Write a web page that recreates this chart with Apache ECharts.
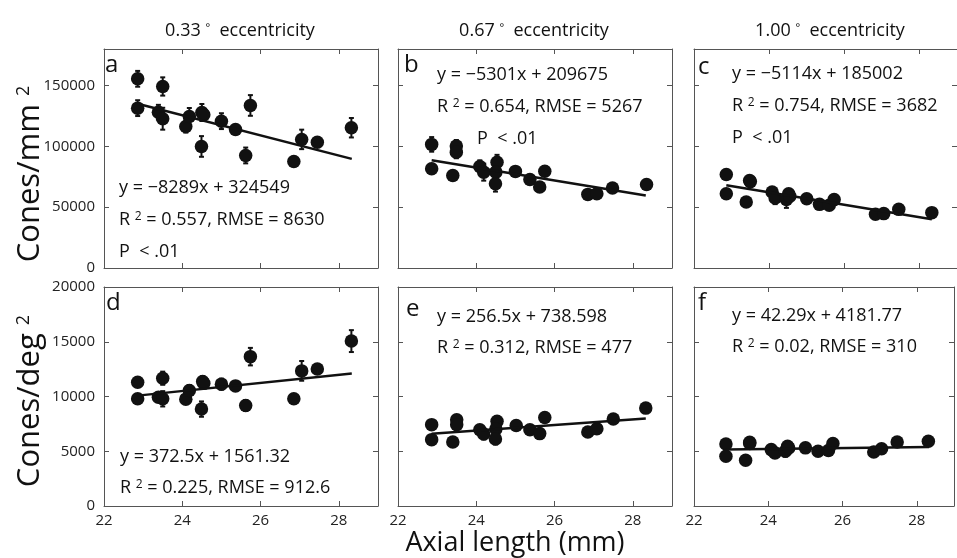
<!DOCTYPE html>
<html>
<head>
<meta charset="utf-8">
<script src="https://cdn.jsdelivr.net/npm/echarts@6/dist/echarts.min.js"></script>
<style>
  html, body { margin: 0; padding: 0; background: #fff; }
  #main { width: 957px; height: 558px; }
</style>
</head>
<body>
<div id="main"></div>
<script>
// axial length (mm) and cone density per panel
var lenA = [22.86, 22.86, 23.39, 23.50, 23.50, 24.09, 24.18, 24.50, 24.55, 24.49, 25.00, 25.36, 25.62, 25.74, 26.85, 27.05, 27.45, 28.32];
var mmA  = [155500, 131400, 128100, 149200, 122700, 116300, 124500, 127800, 126000, 99900, 120700, 113900, 92500, 133600, 87600, 105700, 103400, 115300];
var errA = [6500, 6500, 6000, 7500, 9000, 5000, 7000, 7000, 0, 8500, 6500, 2000, 6500, 8500, 0, 8000, 2000, 8000];

var lenB = [22.86, 22.86, 23.40, 23.49, 23.49, 24.09, 24.19, 24.53, 24.50, 24.49, 25.00, 25.37, 25.62, 25.75, 26.85, 27.08, 27.48, 28.35];
var mmB  = [101600, 81600, 76100, 100200, 95200, 83500, 78800, 87000, 78800, 69300, 79400, 72800, 66500, 79600, 60500, 61100, 65700, 68700];
var errB = [6000, 4000, 0, 5000, 5000, 5000, 7000, 6000, 3000, 6500, 2000, 2000, 3000, 4000, 0, 0, 0, 0];

var lenC = [22.86, 22.86, 23.39, 23.48, 23.50, 24.08, 24.16, 24.52, 24.46, 24.55, 25.00, 25.34, 25.60, 25.73, 26.83, 27.05, 27.45, 28.33];
var mmC  = [76900, 61100, 54200, 72000, 71000, 62400, 57500, 61100, 56400, 59000, 57000, 52300, 51500, 56200, 44100, 44700, 48200, 45500];
var errC = [0, 0, 0, 0, 0, 3000, 5000, 3000, 7000, 0, 0, 0, 0, 2000, 0, 0, 0, 0];

var lenD = [22.86, 22.86, 23.39, 23.50, 23.50, 24.09, 24.18, 24.52, 24.55, 24.49, 25.00, 25.36, 25.62, 25.74, 26.85, 27.05, 27.45, 28.32];
var degD = [11310, 9790, 9940, 11670, 9790, 9760, 10550, 11360, 11200, 8850, 11130, 10970, 9180, 13640, 9790, 12340, 12520, 15060];
var errD = [400, 300, 300, 600, 700, 300, 500, 500, 0, 700, 500, 200, 500, 800, 0, 900, 200, 1000];

var lenE = [22.86, 22.86, 23.40, 23.50, 23.50, 24.09, 24.19, 24.53, 24.50, 24.49, 25.02, 25.37, 25.62, 25.75, 26.85, 27.08, 27.50, 28.33];
var degE = [7430, 6060, 5850, 7880, 7430, 6970, 6580, 7730, 7030, 6120, 7360, 6970, 6610, 8090, 6760, 7060, 7950, 8940];
var errE = [0, 0, 0, 400, 300, 300, 500, 400, 0, 500, 0, 0, 200, 300, 0, 0, 0, 0];

var lenF = [22.86, 22.86, 23.39, 23.50, 23.50, 24.08, 24.18, 24.52, 24.46, 24.55, 25.00, 25.34, 25.62, 25.74, 26.84, 27.05, 27.47, 28.31];
var degF = [5670, 4550, 4180, 5820, 5700, 5150, 4850, 5450, 5000, 5300, 5310, 5000, 5060, 5700, 4940, 5220, 5850, 5910];
var errF = [0, 0, 0, 200, 0, 200, 300, 300, 500, 0, 0, 0, 0, 300, 0, 0, 0, 0];

// regression line end points (from the printed equations)
var fitA = [[22.86, 135060], [28.33, 89720]];
var fitB = [[22.86, 88490], [28.33, 59500]];
var fitC = [[22.86, 68100], [28.33, 40120]];
var fitD = [[22.86, 10080], [28.33, 12110]];
var fitE = [[22.86, 6600], [28.33, 8000]];
var fitF = [[22.86, 5150], [28.33, 5380]];

var xTicks = [22, 24, 26, 28];
var mmTicks = [0, 50000, 100000, 150000];
var degTicks = [0, 5000, 10000, 15000, 20000];
var columnTitles = ['0.33', '0.67', '1.00'];

var panels = [
  { x: lenA, y: mmA, e: errA, fit: fitA, row: 0, col: 0, letter: 'a',
    lines: ['y = \u22128289x + 324549', 'R {s|2} = 0.557, RMSE = 8630', 'P  < .01'] },
  { x: lenB, y: mmB, e: errB, fit: fitB, row: 0, col: 1, letter: 'b',
    lines: ['y = \u22125301x + 209675', 'R {s|2} = 0.654, RMSE = 5267', 'P  < .01'] },
  { x: lenC, y: mmC, e: errC, fit: fitC, row: 0, col: 2, letter: 'c',
    lines: ['y = \u22125114x + 185002', 'R {s|2} = 0.754, RMSE = 3682', 'P  < .01'] },
  { x: lenD, y: degD, e: errD, fit: fitD, row: 1, col: 0, letter: 'd',
    lines: ['y = 372.5x + 1561.32', 'R {s|2} = 0.225, RMSE = 912.6'] },
  { x: lenE, y: degE, e: errE, fit: fitE, row: 1, col: 1, letter: 'e',
    lines: ['y = 256.5x + 738.598', 'R {s|2} = 0.312, RMSE = 477'] },
  { x: lenF, y: degF, e: errF, fit: fitF, row: 1, col: 2, letter: 'f',
    lines: ['y = 42.29x + 4181.77', 'R {s|2} = 0.02, RMSE = 310'] }
];

var colLeft = [104, 398, 694];
var rowTop = [49, 287];
var panelW = 274, panelH = 219;
var FONT = '"Open Sans", "Noto Sans", sans-serif';
var ink = '#111';
var frame = '#555';

// where the annotation text sits in each panel
var textPos = [
  { letter: [112, 68], eq: [119, 188], gap: 32, pX: 119 },
  { letter: [411, 68], eq: [437, 75], gap: 32, pX: 477 },
  { letter: [705, 70], eq: [732, 74], gap: 32, pX: 732 },
  { letter: [113, 306], eq: [120, 457], gap: 31 },
  { letter: [413, 312], eq: [437, 317], gap: 31 },
  { letter: [705, 306], eq: [732, 316], gap: 31 }
];

var myCharts = echarts.init(document.getElementById('main'));

var grid = [], xAxis = [], yAxis = [], series = [], graphic = [];
var supRich = { s: { fontSize: 12, verticalAlign: 'top', fontFamily: FONT, fill: ink, color: ink } };

panels.forEach(function (p, i) {
  grid.push({ left: colLeft[p.col], top: rowTop[p.row], width: panelW, height: panelH });

  var ticksY = p.row === 0 ? mmTicks : degTicks;
  var yMax = p.row === 0 ? 180000 : 20000;
  var yStep = p.row === 0 ? 50000 : 5000;

  // bottom and top x axes (ticks inside, box look)
  ['bottom', 'top'].forEach(function (pos) {
    xAxis.push({
      gridIndex: i, type: 'value', position: pos, min: 22, max: 29, interval: 2,
      axisLine: { show: true, onZero: false, lineStyle: { color: frame, width: 1 } },
      axisTick: { show: true, inside: true, length: 5, lineStyle: { color: frame } },
      splitLine: { show: false },
      axisLabel: {
        show: pos === 'bottom' && p.row === 1, margin: 7,
        fontFamily: FONT, fontSize: 15, color: '#222',
        formatter: function (v) { return xTicks.indexOf(v) >= 0 ? String(v) : ''; }
      }
    });
  });
  ['left', 'right'].forEach(function (pos) {
    yAxis.push({
      gridIndex: i, type: 'value', position: pos, min: 0, max: yMax, interval: yStep,
      axisLine: { show: true, onZero: false, lineStyle: { color: frame, width: 1 } },
      axisTick: { show: true, inside: true, length: 5, lineStyle: { color: frame } },
      splitLine: { show: false },
      axisLabel: {
        show: pos === 'left' && p.col === 0, margin: 9,
        fontFamily: FONT, fontSize: 15, color: '#222',
        formatter: function (v) { return ticksY.indexOf(v) >= 0 ? String(v) : ''; }
      }
    });
  });

  var pts = p.x.map(function (v, k) { return [v, p.y[k]]; });
  var bars = p.x.map(function (v, k) { return [v, p.y[k], p.e[k]]; });

  series.push({
    type: 'custom', xAxisIndex: i * 2, yAxisIndex: i * 2, z: 2, silent: true,
    data: bars,
    renderItem: function (params, api) {
      var e = api.value(2);
      if (!e) return null;
      var lo = api.coord([api.value(0), api.value(1) - e]);
      var hi = api.coord([api.value(0), api.value(1) + e]);
      var cap = 2.5;
      var st = { stroke: ink, lineWidth: 2 };
      return {
        type: 'group',
        children: [
          { type: 'line', shape: { x1: lo[0], y1: lo[1], x2: hi[0], y2: hi[1] }, style: st },
          { type: 'line', shape: { x1: lo[0] - cap, y1: lo[1], x2: lo[0] + cap, y2: lo[1] }, style: st },
          { type: 'line', shape: { x1: hi[0] - cap, y1: hi[1], x2: hi[0] + cap, y2: hi[1] }, style: st }
        ]
      };
    }
  });
  series.push({
    type: 'scatter', xAxisIndex: i * 2, yAxisIndex: i * 2, z: 3,
    symbol: 'circle', symbolSize: 13.5,
    itemStyle: { color: ink, opacity: 1 },
    data: pts
  });
  series.push({
    type: 'line', xAxisIndex: i * 2, yAxisIndex: i * 2, z: 4,
    showSymbol: false, symbol: 'none',
    lineStyle: { color: ink, width: 2.5 },
    data: p.fit
  });

  // panel letter and fit statistics
  var tp = textPos[i];
  graphic.push({
    type: 'text', left: tp.letter[0] - 7, top: tp.letter[1] - 15,
    style: { text: p.letter, font: '24px ' + FONT, fill: ink }
  });
  p.lines.forEach(function (t, k) {
    var xx = (k === 2 && tp.pX) ? tp.pX : tp.eq[0];
    graphic.push({
      type: 'text', x: xx, y: tp.eq[1] + k * tp.gap,
      style: {
        text: t, fill: ink, fontFamily: FONT, fontSize: 18,
        verticalAlign: 'middle', align: 'left', rich: supRich
      }
    });
  });
});

// column titles
columnTitles.forEach(function (t, c) {
  graphic.push({
    type: 'text', x: colLeft[c] + panelW / 2 - 1, y: 31,
    style: {
      text: t + ' {s|\u00b0}  eccentricity', fill: ink, fontFamily: FONT, fontSize: 18,
      align: 'center', verticalAlign: 'middle',
      rich: { s: { fontSize: 11, verticalAlign: 'top', fontFamily: FONT, fill: ink } }
    }
  });
});

// axis names
graphic.push({
  type: 'text', x: 30, y: 174, rotation: Math.PI / 2,
  style: {
    text: 'Cones/mm {s|2}', fill: ink, fontFamily: FONT, fontSize: 31,
    align: 'center', verticalAlign: 'middle',
    rich: { s: { fontSize: 18, verticalAlign: 'top', fontFamily: FONT, fill: ink } }
  }
});
graphic.push({
  type: 'text', x: 30, y: 401, rotation: Math.PI / 2,
  style: {
    text: 'Cones/deg {s|2}', fill: ink, fontFamily: FONT, fontSize: 31,
    align: 'center', verticalAlign: 'middle',
    rich: { s: { fontSize: 18, verticalAlign: 'top', fontFamily: FONT, fill: ink } }
  }
});
graphic.push({
  type: 'text', x: 515, y: 543,
  style: {
    text: 'Axial length (mm)', fill: ink, fontFamily: FONT, fontSize: 27,
    align: 'center', verticalAlign: 'middle'
  }
});

var option = {
  backgroundColor: '#ffffff',
  animation: false,
  grid: grid,
  xAxis: xAxis,
  yAxis: yAxis,
  series: series,
  graphic: graphic
};
myCharts.setOption(option);
</script>
</body>
</html>
